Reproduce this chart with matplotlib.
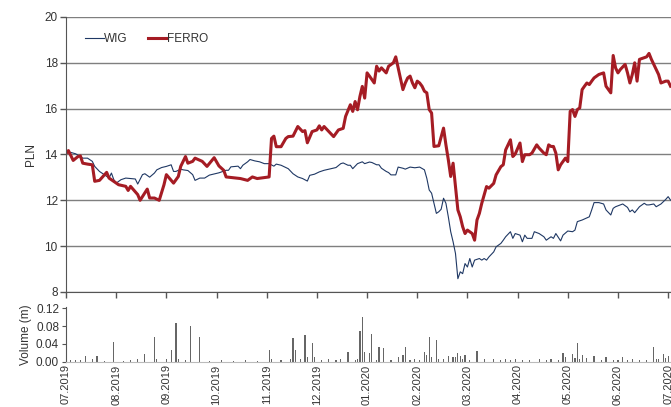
import matplotlib.pyplot as plt
import numpy as np

plt.rcParams['font.family'] = ['Liberation Sans', 'DejaVu Sans']

# trading-day index (ticks every 21 sessions) and prices
ferro_day = [0, 1, 3, 5, 6, 7, 9, 11, 12, 14, 17, 18, 21, 22, 25, 26, 27, 30, 31, 34,
             35, 37, 39, 41, 42, 45, 47, 48, 50, 51, 53, 54, 57, 59, 62, 64, 66, 67, 73, 76,
             78, 80, 85, 86, 87, 88, 90, 92, 93, 95, 97, 99, 100, 101, 103, 105, 106, 107, 108, 112,
             114, 116, 117, 119, 120, 121, 122, 123, 124, 125, 126, 127, 129, 130, 131, 132, 134, 135, 137, 138,
             139, 141, 142, 143, 144, 145, 146, 147, 148, 149, 150, 151, 152, 153, 154, 156, 158, 159, 160, 161,
             162, 164, 165, 166, 167, 168, 170, 171, 172, 173, 174, 176, 177, 179, 180, 182, 183, 184, 186, 187,
             188, 190, 191, 192, 194, 195, 197, 198, 200, 201, 202, 203, 204, 205, 206, 207, 209, 210, 211, 212,
             213, 214, 215, 216, 217, 218, 219, 220, 221, 223, 225, 226, 228, 229, 230, 231, 232, 234, 235, 236,
             237, 238, 239, 240, 242, 243, 244, 245, 246, 248, 249, 251, 252, 253]
ferro_price = [14.05, 14.17, 13.74, 13.91, 13.94, 13.62, 13.58, 13.55, 12.83, 12.87, 13.22, 12.97, 12.75, 12.68, 12.61, 12.43, 12.61, 12.25, 12.0, 12.49,
               12.1, 12.1, 12.0, 12.68, 13.12, 12.75, 13.04, 13.48, 13.91, 13.62, 13.7, 13.84, 13.7, 13.48, 13.86, 13.5, 13.31, 13.02, 12.95, 12.87,
               13.02, 12.95, 13.02, 14.7, 14.8, 14.34, 14.34, 14.7, 14.78, 14.8, 15.22, 15.0, 15.04, 14.51, 15.0, 15.07, 15.25, 15.07, 15.22, 14.78,
               15.07, 15.14, 15.66, 16.17, 15.88, 16.31, 15.95, 16.53, 16.97, 16.46, 17.56, 17.42, 17.12, 17.85, 17.64, 17.78, 17.56, 17.85, 18.0, 18.26,
               17.78, 16.83, 17.12, 17.34, 17.42, 17.12, 16.91, 17.2, 17.12, 16.98, 16.76, 16.69, 15.96, 15.81, 14.35, 14.38, 15.15, 14.42, 13.77, 13.04,
               13.62, 11.58, 11.28, 10.85, 10.55, 10.7, 10.55, 10.26, 11.14, 11.43, 11.87, 12.6, 12.53, 12.74, 13.11, 13.47, 13.55, 14.2, 14.64, 13.91,
               14.02, 14.5, 13.69, 13.99, 13.99, 14.06, 14.42, 14.28, 14.06, 13.99, 14.42, 14.35, 14.35, 14.06, 13.33, 13.55, 13.84, 13.69, 15.88, 15.96,
               15.66, 15.96, 16.03, 16.83, 16.98, 17.12, 17.05, 17.2, 17.34, 17.49, 17.56, 16.98, 16.69, 18.32, 17.78, 17.56, 17.71, 17.93, 17.56, 17.12,
               17.49, 18.0, 17.2, 18.15, 18.22, 18.26, 18.41, 18.15, 17.93, 17.49, 17.12, 17.2, 17.2, 16.98]

wig_day = [0, 2, 4, 6, 7, 9, 11, 12, 14, 16, 18, 19, 20, 21, 23, 25, 28, 29, 30, 32,
           33, 35, 37, 38, 40, 42, 44, 45, 46, 48, 49, 51, 53, 54, 56, 58, 60, 62, 64, 67,
           68, 69, 72, 73, 74, 76, 77, 79, 81, 83, 85, 87, 88, 90, 93, 95, 97, 99, 101, 102,
           104, 106, 108, 111, 113, 115, 116, 118, 119, 120, 122, 124, 125, 127, 128, 130, 131, 132, 134, 135,
           136, 138, 139, 141, 142, 144, 146, 148, 150, 151, 152, 153, 154, 155, 156, 157, 158, 159, 160, 161,
           162, 163, 164, 165, 166, 167, 168, 169, 170, 171, 173, 174, 175, 176, 177, 179, 180, 182, 183, 184,
           186, 187, 188, 190, 191, 192, 193, 195, 196, 198, 200, 201, 203, 204, 205, 207, 208, 210, 212, 213,
           214, 216, 219, 220, 221, 223, 225, 226, 228, 229, 230, 232, 233, 235, 236, 237, 238, 240, 242, 243,
           244, 246, 247, 249, 250, 251, 252, 253]
wig_price = [14.05, 14.09, 14.03, 13.91, 13.84, 13.84, 13.7, 13.48, 13.26, 13.12, 12.97, 13.19, 12.9, 12.75, 12.9, 12.97, 12.94, 12.93, 12.71, 13.12,
             13.16, 13.01, 13.19, 13.33, 13.43, 13.48, 13.55, 13.26, 13.26, 13.36, 13.33, 13.3, 13.12, 12.87, 12.97, 12.97, 13.1, 13.15, 13.2, 13.31,
             13.31, 13.46, 13.49, 13.38, 13.53, 13.68, 13.78, 13.72, 13.68, 13.6, 13.6, 13.49, 13.58, 13.53, 13.38, 13.16, 13.02, 12.95, 12.84, 13.09,
             13.14, 13.24, 13.31, 13.38, 13.43, 13.6, 13.63, 13.53, 13.53, 13.38, 13.6, 13.68, 13.6, 13.67, 13.65, 13.55, 13.55, 13.4, 13.26, 13.21,
             13.11, 13.11, 13.45, 13.4, 13.36, 13.45, 13.42, 13.45, 13.33, 12.96, 12.45, 12.31, 11.87, 11.43, 11.5, 11.61, 12.09, 11.87, 11.28, 10.63,
             10.19, 9.68, 8.58, 8.88, 8.8, 9.24, 9.09, 9.46, 9.09, 9.39, 9.46, 9.39, 9.46, 9.39, 9.53, 9.75, 9.97, 10.12, 10.26, 10.41,
             10.63, 10.34, 10.55, 10.48, 10.19, 10.48, 10.34, 10.34, 10.63, 10.55, 10.41, 10.26, 10.41, 10.34, 10.55, 10.23, 10.48, 10.66, 10.63, 10.7,
             11.07, 11.14, 11.28, 11.58, 11.9, 11.9, 11.84, 11.58, 11.36, 11.65, 11.72, 11.8, 11.84, 11.69, 11.5, 11.58, 11.46, 11.72, 11.87, 11.8,
             11.8, 11.84, 11.72, 11.84, 11.94, 12.04, 12.16, 12.01]

# FERRO turnover, million shares
vol_day = [2, 4, 6, 8, 11, 13, 16, 20, 24, 27, 30, 33, 37, 38, 42, 44, 46, 47, 50, 52,
           56, 60, 65, 70, 75, 80, 85, 86, 90, 94, 95, 96, 98, 100, 101, 103, 104, 107, 110, 113,
           115, 118, 121, 122, 123, 124, 125, 127, 128, 130, 131, 133, 136, 139, 141, 142, 144, 146, 148, 150,
           151, 152, 153, 155, 156, 158, 160, 162, 163, 164, 165, 166, 167, 169, 172, 175, 179, 182, 184, 186,
           188, 191, 194, 198, 201, 203, 206, 208, 209, 212, 213, 214, 215, 216, 218, 221, 224, 226, 229, 231,
           233, 235, 237, 240, 243, 246, 247, 248, 250, 251, 252]
vol_value = [0.003, 0.004, 0.003, 0.0125, 0.005, 0.0125, 0.002, 0.044, 0.002, 0.003, 0.006, 0.017, 0.055, 0.007, 0.005, 0.027, 0.086, 0.005, 0.003, 0.079,
             0.055, 0.002, 0.003, 0.002, 0.003, 0.002, 0.027, 0.005, 0.003, 0.007, 0.054, 0.027, 0.005, 0.059, 0.011, 0.042, 0.011, 0.004, 0.006, 0.003,
             0.005, 0.022, 0.004, 0.007, 0.068, 0.10, 0.022, 0.02, 0.063, 0.004, 0.032, 0.030, 0.004, 0.011, 0.014, 0.033, 0.004, 0.007, 0.004, 0.021,
             0.015, 0.055, 0.011, 0.048, 0.006, 0.007, 0.0125, 0.011, 0.010, 0.020, 0.0125, 0.007, 0.014, 0.004, 0.024, 0.007, 0.006, 0.003, 0.007, 0.004,
             0.006, 0.003, 0.004, 0.007, 0.004, 0.007, 0.003, 0.020, 0.010, 0.018, 0.009, 0.042, 0.007, 0.016, 0.009, 0.0125, 0.003, 0.010, 0.004, 0.003,
             0.011, 0.004, 0.006, 0.003, 0.004, 0.032, 0.006, 0.007, 0.017, 0.009, 0.0125]

month_labels = ['07.2019', '08.2019', '09.2019', '10.2019', '11.2019', '12.2019', '01.2020',
                '02.2020', '03.2020', '04.2020', '05.2020', '06.2020', '07.2020']
month_pos = [21 * i for i in range(len(month_labels))]

red = '#A51C24'
navy = '#1F3864'
txt = '#333333'
spine = '#555555'
fs = 8.5

fig = plt.figure(figsize=(6.71, 4.07), dpi=100)
ax = fig.add_axes([0.0984, 0.2826, 0.9016, 0.6757])
axv = fig.add_axes([0.0984, 0.1113, 0.9016, 0.1337])

ax.plot(wig_day, wig_price, color=navy, linewidth=0.8, label='WIG')
ax.plot(ferro_day, ferro_price, color=red, linewidth=2.2, label='FERRO')

ax.set_xlim(0, 253.2)
ax.set_ylim(8, 20)
ax.set_yticks(np.arange(8, 21, 2))
ax.set_xticks(month_pos)
ax.set_xticklabels([])
ax.grid(axis='y', color='#7f7f7f', linewidth=1.0)
ax.set_axisbelow(True)
for s in ['top', 'right']:
    ax.spines[s].set_visible(False)
for s in ['left', 'bottom']:
    ax.spines[s].set_color(spine)
ax.tick_params(axis='both', colors=spine, labelcolor=txt, labelsize=fs, length=4, width=1, pad=2)
ax.set_ylabel('PLN', fontsize=fs, color=txt, labelpad=5)
ax.legend(loc='upper left', bbox_to_anchor=(0.031, 0.94), ncol=2, frameon=False,
          fontsize=fs, handlelength=1.6, handletextpad=0.05, columnspacing=1.7,
          borderpad=0, borderaxespad=0, labelcolor=txt)

axv.bar(vol_day, vol_value, width=0.5, color='#666666', linewidth=0)
axv.set_xlim(0, 253.2)
axv.set_ylim(0, 0.122)
axv.set_yticks([0.0, 0.04, 0.08, 0.12])
axv.yaxis.set_major_formatter(plt.FuncFormatter(lambda y, _: f'{y:.2f}'))
axv.set_xticks(month_pos)
axv.set_xticklabels(month_labels, rotation=90, va='top', ha='center')
for s in ['top', 'right']:
    axv.spines[s].set_visible(False)
axv.spines['left'].set_color(spine)
axv.spines['bottom'].set_color('#bbbbbb')
axv.tick_params(axis='y', colors=spine, labelcolor=txt, labelsize=fs, length=3, pad=2)
axv.tick_params(axis='x', length=0, labelcolor=txt, labelsize=8, pad=2)
axv.set_ylabel('Volume (m)', fontsize=fs, color=txt, labelpad=3)

fig.savefig('out.png', dpi=100, facecolor='white')
